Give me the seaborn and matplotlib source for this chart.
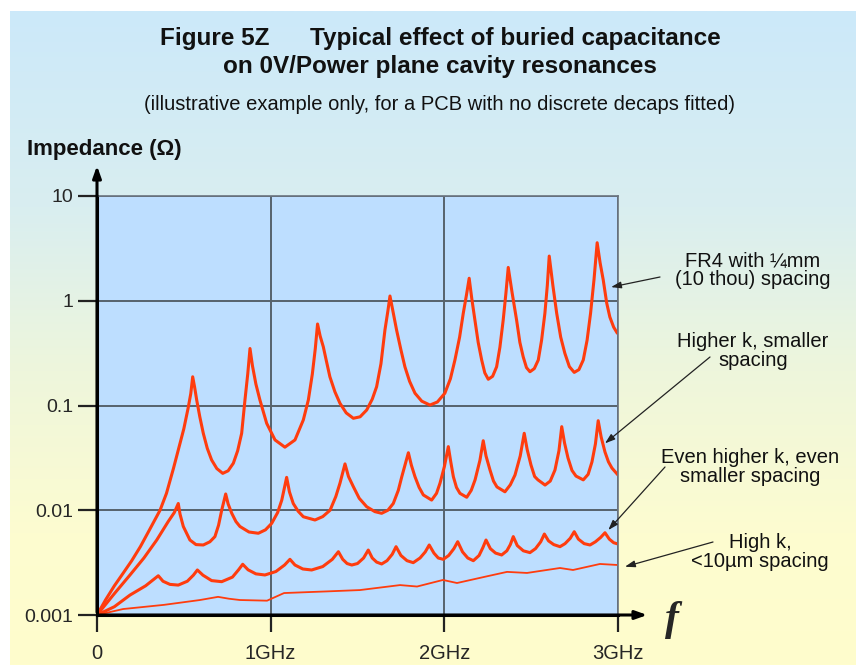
import numpy as np
import pandas as pd
import matplotlib.pyplot as plt
import seaborn as sns
from matplotlib.colors import LinearSegmentedColormap
from matplotlib.ticker import FixedLocator, FixedFormatter, NullLocator

sns.set_style('white')
plt.rcParams['font.family'] = ['Liberation Sans', 'DejaVu Sans']

# Values (frequency in GHz, impedance in ohms)
fr4_ghz = [0, 0.05, 0.10, 0.15, 0.20, 0.25, 0.30, 0.363, 0.40, 0.44, 0.468, 0.50, 0.525, 0.54, 0.551,
           0.562, 0.574, 0.592, 0.612, 0.635, 0.660, 0.69, 0.724, 0.755, 0.785, 0.81, 0.833, 0.852, 0.868, 0.881,
           0.895, 0.915, 0.938, 0.977, 1.025, 1.082, 1.14, 1.188, 1.217, 1.24, 1.257, 1.27,
           1.285, 1.303, 1.32, 1.341, 1.37, 1.399, 1.435, 1.476, 1.515, 1.553, 1.585, 1.610, 1.635, 1.658, 1.675, 1.687,
           1.705, 1.725, 1.75, 1.773, 1.80, 1.831, 1.87, 1.917, 1.96, 2.003, 2.035, 2.061, 2.088, 2.109, 2.128, 2.143,
           2.158, 2.176, 2.195, 2.215, 2.233, 2.253, 2.278, 2.301, 2.32, 2.339, 2.355, 2.368,
           2.39, 2.416, 2.435, 2.454, 2.473, 2.493, 2.518, 2.541, 2.56, 2.579, 2.593, 2.604,
           2.625, 2.647, 2.67, 2.694, 2.72, 2.748, 2.775, 2.80, 2.822, 2.842, 2.862, 2.88,
           2.897, 2.915, 2.935, 2.953, 2.975, 2.996]
fr4_ohm = [0.001, 0.0014, 0.0019, 0.0025, 0.0033, 0.0045, 0.0064, 0.010, 0.0145, 0.025, 0.0376, 0.06, 0.095, 0.13, 0.188,
           0.15, 0.113, 0.078, 0.0543, 0.039, 0.0302, 0.025, 0.0225, 0.0238, 0.0281, 0.037, 0.0543, 0.113, 0.2, 0.35,
           0.24, 0.16, 0.113, 0.0676, 0.0469, 0.040, 0.0469, 0.0728, 0.113, 0.2, 0.35, 0.60,
           0.46, 0.364, 0.27, 0.188, 0.135, 0.105, 0.085, 0.0755, 0.078, 0.0906, 0.115, 0.151, 0.25, 0.526, 0.8, 1.11,
           0.78, 0.526, 0.34, 0.234, 0.17, 0.131, 0.11, 0.101, 0.108, 0.131, 0.18, 0.272, 0.45, 0.759, 1.15, 1.64,
           1.05, 0.655, 0.40, 0.272, 0.205, 0.178, 0.19, 0.234, 0.36, 0.655, 1.2, 2.08,
           1.2, 0.655, 0.40, 0.292, 0.23, 0.21, 0.225, 0.272, 0.42, 0.759, 1.4, 2.67,
           1.4, 0.759, 0.45, 0.315, 0.235, 0.207, 0.22, 0.272, 0.42, 0.759, 1.6, 3.58,
           2.3, 1.58, 0.95, 0.70, 0.56, 0.49]

highk_ghz = [0, 0.10, 0.19, 0.27, 0.344, 0.41, 0.445, 0.468,
             0.478, 0.497, 0.535, 0.57, 0.612, 0.65, 0.679, 0.70, 0.718, 0.741,
             0.755, 0.776, 0.80, 0.823, 0.875, 0.929, 0.97, 1.006, 1.04, 1.064, 1.092,
             1.108, 1.130, 1.158, 1.188, 1.255, 1.30, 1.342, 1.375, 1.399, 1.428,
             1.448, 1.476, 1.51, 1.553, 1.60, 1.639, 1.675, 1.706, 1.735, 1.755, 1.793,
             1.81, 1.831, 1.855, 1.879, 1.927, 1.955, 1.975, 2.0, 2.023,
             2.037, 2.052, 2.070, 2.090, 2.129, 2.155, 2.177, 2.205, 2.224,
             2.240, 2.263, 2.283, 2.303, 2.349, 2.38, 2.407, 2.437, 2.460,
             2.477, 2.499, 2.52, 2.539, 2.580, 2.61, 2.637, 2.66, 2.676,
             2.692, 2.712, 2.735, 2.758, 2.800, 2.828, 2.850, 2.87, 2.886,
             2.903, 2.925, 2.945, 2.965, 3.0]
highk_ohm = [0.001, 0.0016, 0.00241, 0.0035, 0.0052, 0.0078, 0.0095, 0.0116,
             0.0092, 0.0070, 0.0052, 0.0047, 0.00466, 0.0050, 0.0056, 0.0072, 0.0100, 0.0143,
             0.0115, 0.00935, 0.0078, 0.0070, 0.0062, 0.00603, 0.0065, 0.0075, 0.0095, 0.0125, 0.0206,
             0.0150, 0.0116, 0.0098, 0.00867, 0.00807, 0.0087, 0.0100, 0.0135, 0.0181, 0.0277,
             0.021, 0.0168, 0.0130, 0.0108, 0.0097, 0.00935, 0.0100, 0.0116, 0.0155, 0.0209, 0.0354,
             0.027, 0.0209, 0.0165, 0.0140, 0.0125, 0.0145, 0.0181, 0.026, 0.0405,
             0.029, 0.0209, 0.0165, 0.0145, 0.0133, 0.0155, 0.0195, 0.030, 0.0461,
             0.033, 0.0242, 0.019, 0.0167, 0.0150, 0.0175, 0.0217, 0.033, 0.0543,
             0.038, 0.0270, 0.021, 0.0195, 0.0174, 0.019, 0.0242, 0.037, 0.0628,
             0.044, 0.0316, 0.024, 0.0212, 0.0195, 0.022, 0.0289, 0.043, 0.0716,
             0.050, 0.0360, 0.029, 0.0253, 0.0217]

evenhigher_ghz = [0, 0.10, 0.19, 0.28, 0.353,
                  0.38, 0.42, 0.468, 0.52, 0.555, 0.578,
                  0.61, 0.66, 0.718, 0.78, 0.815, 0.839,
                  0.87, 0.915, 0.967, 1.03, 1.08, 1.111,
                  1.14, 1.185, 1.236, 1.30, 1.355, 1.390,
                  1.415, 1.44, 1.467, 1.50, 1.535, 1.562,
                  1.585, 1.61, 1.639, 1.67, 1.70, 1.722,
                  1.75, 1.785, 1.821, 1.86, 1.89, 1.913,
                  1.94, 1.965, 1.994, 2.025, 2.055, 2.077,
                  2.105, 2.135, 2.167, 2.20, 2.222, 2.240,
                  2.265, 2.295, 2.330, 2.36, 2.38, 2.397,
                  2.42, 2.455, 2.493, 2.525, 2.555, 2.576,
                  2.60, 2.63, 2.666, 2.695, 2.725, 2.748,
                  2.772, 2.805, 2.839, 2.87, 2.90, 2.925,
                  2.95, 2.975, 3.0]
evenhigher_ohm = [0.001, 0.0012, 0.00155, 0.0019, 0.00237,
                  0.0021, 0.00196, 0.00193, 0.0021, 0.0024, 0.00269,
                  0.0024, 0.00213, 0.00208, 0.0023, 0.0027, 0.00305,
                  0.0027, 0.00247, 0.00241, 0.0026, 0.0030, 0.0034,
                  0.0030, 0.00275, 0.00269, 0.0029, 0.0034, 0.00402,
                  0.0034, 0.0031, 0.0030, 0.0031, 0.0035, 0.00417,
                  0.0035, 0.0032, 0.00307, 0.0033, 0.0038, 0.00449,
                  0.0037, 0.0033, 0.00316, 0.0035, 0.0040, 0.00466,
                  0.0039, 0.0035, 0.0034, 0.0037, 0.0043, 0.00501,
                  0.0040, 0.0035, 0.0033, 0.0037, 0.0044, 0.0052,
                  0.0043, 0.0039, 0.00374, 0.0041, 0.0047, 0.0056,
                  0.0046, 0.0041, 0.00394, 0.0043, 0.0050, 0.00593,
                  0.0051, 0.0047, 0.00449, 0.0048, 0.0054, 0.00624,
                  0.0053, 0.0048, 0.00466, 0.0050, 0.0055, 0.0061,
                  0.0053, 0.0049, 0.00476]

thin_ghz = [0, 0.150, 0.386, 0.593, 0.697, 0.76, 0.823, 0.979, 1.077, 1.2, 1.324, 1.514,
            1.745, 1.843, 1.992, 2.073, 2.25, 2.361, 2.476, 2.666, 2.741, 2.896, 3.0]
thin_ohm = [0.001, 0.00114, 0.00125, 0.00139, 0.00149, 0.00143, 0.00139, 0.00137, 0.00162, 0.00165, 0.00168, 0.00173,
            0.00193, 0.00187, 0.00216, 0.00202, 0.00235, 0.00258, 0.00252, 0.00281, 0.00269, 0.00307, 0.0030]

y_ticks = [0.001, 0.01, 0.1, 1, 10]
y_labels = ['0.001', '0.01', '0.1', '1', '10']
x_ticks = [0, 1, 2, 3]
x_labels = ['0', '1GHz', '2GHz', '3GHz']

curve_labels = ['FR4 with ¼mm\n(10 thou) spacing',
                'Higher k, smaller\nspacing',
                'Even higher k, even\nsmaller spacing',
                'High k,\n<10µm spacing']

W, H = 856, 665
fig = plt.figure(figsize=(W / 100, H / 100), dpi=100)
fig.patch.set_facecolor('white')

# gradient background (light blue at top, pale yellow at bottom)
bg = fig.add_axes([10 / W, 0, (W - 10) / W, (H - 11) / H], zorder=0)
bg_cmap = LinearSegmentedColormap.from_list(
    'bg', [(0, '#FFFDCC'), (0.2, '#FDFCD0'), (0.45, '#EEF6DC'),
           (0.7, '#D9EEF0'), (1, '#CCE9FA')])
grad = np.linspace(0, 1, 256).reshape(-1, 1)
bg.imshow(grad, aspect='auto', cmap=bg_cmap, origin='lower', extent=[0, 1, 0, 1])
bg.axis('off')

ax = fig.add_axes([97 / W, 50 / H, 521 / W, 419 / H], zorder=1)
ax.set_facecolor('#BDDEFF')

line_color = '#FF3C0E'
sns.lineplot(x=fr4_ghz, y=fr4_ohm, ax=ax, color=line_color, lw=2.2, sort=False, estimator=None)
sns.lineplot(x=highk_ghz, y=highk_ohm, ax=ax, color=line_color, lw=2.2, sort=False, estimator=None)
sns.lineplot(x=evenhigher_ghz, y=evenhigher_ohm, ax=ax, color=line_color, lw=2.2, sort=False, estimator=None)
sns.lineplot(x=thin_ghz, y=thin_ohm, ax=ax, color=line_color, lw=1.3, sort=False, estimator=None)
for ln in ax.lines:
    ln.set_solid_joinstyle('round')

ax.set_yscale('log')
ax.set_xlim(0, 3)
ax.set_ylim(0.001, 10)
ax.yaxis.set_major_locator(FixedLocator(y_ticks))
ax.yaxis.set_major_formatter(FixedFormatter(y_labels))
ax.yaxis.set_minor_locator(NullLocator())
ax.xaxis.set_major_locator(FixedLocator(x_ticks))
ax.xaxis.set_major_formatter(FixedFormatter(x_labels))
ax.set_xlabel('')
ax.set_ylabel('')

ax.grid(True, which='major', color='#56626C', lw=1.4)
ax.set_axisbelow(True)
for side in ['top', 'right']:
    ax.spines[side].set_color('#6A7480')
    ax.spines[side].set_linewidth(1.2)
for side in ['left', 'bottom']:
    ax.spines[side].set_color('black')
    ax.spines[side].set_linewidth(2.2)

ax.tick_params(axis='y', direction='out', length=14, width=1.6, color='#222222',
               pad=3, labelsize=14, left=True)
ax.tick_params(axis='x', direction='out', length=12, width=1.6, color='#222222',
               pad=9, labelsize=14.5, bottom=True)

# axis arrows
ax.annotate('', xy=(97 / W, (H - 163) / H), xytext=(97 / W, 50 / H),
            xycoords='figure fraction', textcoords='figure fraction',
            arrowprops=dict(arrowstyle='-|>,head_length=0.7,head_width=0.25', color='black', lw=2.2))
ax.annotate('', xy=(650 / W, 50 / H), xytext=(97 / W, 50 / H),
            xycoords='figure fraction', textcoords='figure fraction',
            arrowprops=dict(arrowstyle='-|>,head_length=0.7,head_width=0.25', color='black', lw=2.2))

fig.text(672 / W, 1 - 620 / H, 'f', family='Liberation Serif', style='italic',
         weight='bold', fontsize=30, ha='center', va='center')

# titles
fig.text(440 / W, 1 - 38 / H, 'Figure 5Z      Typical effect of buried capacitance',
         fontsize=17.5, weight='bold', ha='center', va='center', color='#111111')
fig.text(440 / W, 1 - 66 / H, 'on 0V/Power plane cavity resonances',
         fontsize=17.5, weight='bold', ha='center', va='center', color='#111111')
fig.text(439 / W, 1 - 104 / H,
         '(illustrative example only, for a PCB with no discrete decaps fitted)',
         fontsize=14.5, ha='center', va='center', color='#111111')
fig.text(27 / W, 1 - 150 / H, 'Impedance (Ω)', fontsize=16, weight='bold',
         ha='left', va='center', color='#111111')

# curve labels with arrows
label_pos = [(753, 270), (753, 351), (750, 467), (760, 552)]
arrow_tail = [(660, 277), (710, 357), (665, 467), (713, 542)]
arrow_head = [(2.96, 1.35), (2.925, 0.0435), (2.944, 0.00647), (3.04, 0.00289)]
for text, (tx, ty), (ax_, ay_), head in zip(curve_labels, label_pos, arrow_tail, arrow_head):
    fig.text(tx / W, 1 - ty / H, text, fontsize=14.5, ha='center', va='center',
             linespacing=1.05, color='#111111')
    ax.annotate('', xy=head, xycoords='data', xytext=(ax_ / W, 1 - ay_ / H),
                textcoords='figure fraction', annotation_clip=False,
                arrowprops=dict(arrowstyle='-|>,head_length=0.6,head_width=0.2',
                                color='#222222', lw=0.9, shrinkA=0, shrinkB=0))

fig.savefig('out.png', dpi=100)
